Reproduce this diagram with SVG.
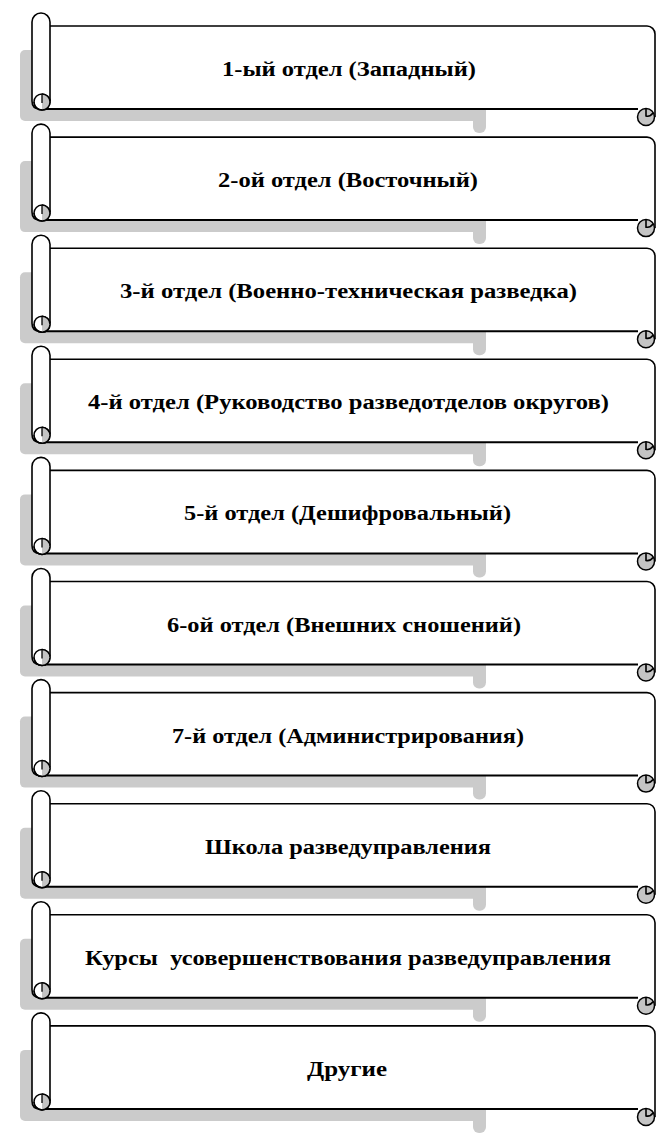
<svg xmlns="http://www.w3.org/2000/svg" xmlns:xlink="http://www.w3.org/1999/xlink" width="670" height="1145" viewBox="0 0 670 1145">
<style>
.shadow{fill:#cbcbcb}
.body{fill:#fff;stroke:none}
.edge{fill:none;stroke:#000;stroke-width:1.6}
.bottom{fill:none;stroke:#000;stroke-width:2}
.roll{fill:#fff;stroke:#000;stroke-width:1.6}
.curl{fill:#c4c4c4;stroke:#000;stroke-width:1.5}
.lbl{font-family:"Liberation Serif","Times New Roman",serif;font-weight:bold;font-size:20px;fill:#000;text-anchor:middle}
</style>
<defs>
<g id="scroll">
<rect class="shadow" x="20" y="50" width="466" height="71" rx="5"/>
<rect class="shadow" x="473" y="105" width="13" height="28" rx="6"/>
<path class="body" d="M41,26 H647 A8,8 0 0 1 655,34 V109 H41 Z"/>
<path class="edge" d="M50,26 H647 A8,8 0 0 1 655,34 V117"/>
<circle class="curl" cx="646" cy="117" r="8.5"/>
<path class="edge" d="M646,108.5 V116 Q650,117 653,113" stroke-width="1.2"/>
<path class="bottom" d="M40,109 H638"/>
<path class="roll" d="M50,101 V22 A9,9 0 0 0 32,22 V101 Q32,109 40,109"/>
<circle cx="42" cy="102" r="8" fill="#fff" stroke="#000" stroke-width="1.5"/>
<path d="M42,94 A8,8 0 0 1 42,110 V102 Z" fill="#c4c4c4" stroke="none"/>
<path d="M42,94 A8,8 0 0 1 50,102" fill="none" stroke="#000" stroke-width="1.5"/>
<path d="M42,94 V103" fill="none" stroke="#000" stroke-width="1.3"/>
<path d="M34,102 A8,8 0 0 0 42,110 A8,8 0 0 0 50,102" fill="none" stroke="#000" stroke-width="1.5"/>
</g>
</defs>
<g id="connectors"></g>
<g id="node1"><use xlink:href="#scroll"/><text class="lbl" x="349" y="76" textLength="254" lengthAdjust="spacingAndGlyphs">1-ый отдел (Западный)</text></g>
<g id="node2" transform="translate(0,111.1)"><use xlink:href="#scroll"/><text class="lbl" x="348" y="76" textLength="260" lengthAdjust="spacingAndGlyphs">2-ой отдел (Восточный)</text></g>
<g id="node3" transform="translate(0,222.2)"><use xlink:href="#scroll"/><text class="lbl" x="348.5" y="76" textLength="457" lengthAdjust="spacingAndGlyphs">3-й отдел (Военно-техническая разведка)</text></g>
<g id="node4" transform="translate(0,333.3)"><use xlink:href="#scroll"/><text class="lbl" x="348.5" y="76" textLength="521" lengthAdjust="spacingAndGlyphs">4-й отдел (Руководство разведотделов округов)</text></g>
<g id="node5" transform="translate(0,444.4)"><use xlink:href="#scroll"/><text class="lbl" x="347.5" y="76" textLength="327" lengthAdjust="spacingAndGlyphs">5-й отдел (Дешифровальный)</text></g>
<g id="node6" transform="translate(0,555.5)"><use xlink:href="#scroll"/><text class="lbl" x="344" y="76" textLength="354" lengthAdjust="spacingAndGlyphs">6-ой отдел (Внешних сношений)</text></g>
<g id="node7" transform="translate(0,666.6)"><use xlink:href="#scroll"/><text class="lbl" x="348" y="76" textLength="352" lengthAdjust="spacingAndGlyphs">7-й отдел (Администрирования)</text></g>
<g id="node8" transform="translate(0,777.7)"><use xlink:href="#scroll"/><text class="lbl" x="348" y="76" textLength="286" lengthAdjust="spacingAndGlyphs">Школа разведуправления</text></g>
<g id="node9" transform="translate(0,888.8)"><use xlink:href="#scroll"/><text class="lbl" x="348" y="76" textLength="526" lengthAdjust="spacingAndGlyphs" xml:space="preserve">Курсы  усовершенствования разведуправления</text></g>
<g id="node10" transform="translate(0,999.9)"><use xlink:href="#scroll"/><text class="lbl" x="347" y="76" textLength="80" lengthAdjust="spacingAndGlyphs">Другие</text></g>
</svg>
